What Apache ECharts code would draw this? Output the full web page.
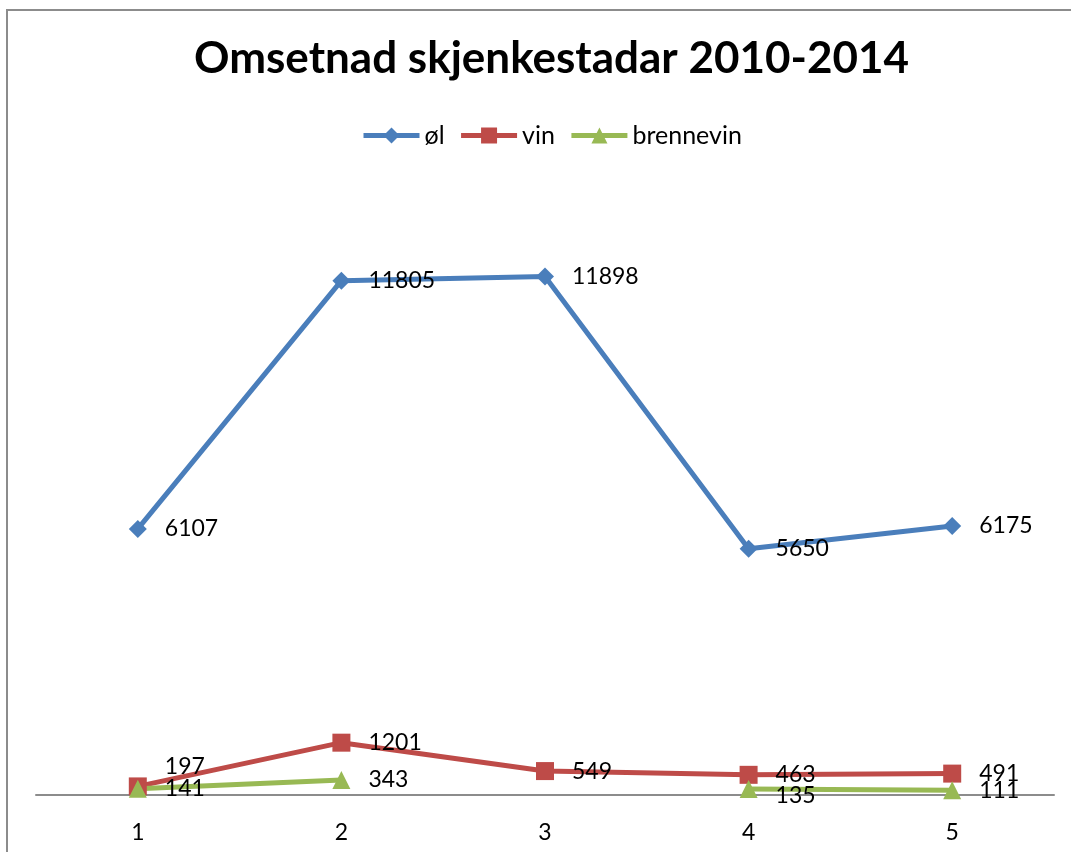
<!DOCTYPE html>
<html>
<head>
<meta charset="utf-8">
<script src="https://cdn.jsdelivr.net/npm/echarts@6/dist/echarts.min.js"></script>
<style>
  html, body { margin: 0; padding: 0; background: #fff; }
  #chart { width: 1071px; height: 852px; }
</style>
</head>
<body>
<div id="chart"></div>
<script>
// values
const categories = ['1', '2', '3', '4', '5'];
const ol = [6107, 11805, 11898, 5650, 6175];
const vin = [197, 1201, 549, 463, 491];
const brennevin = [141, 343, null, 135, 111];

const font = 'Lato, "Open Sans", sans-serif';
const label = { show: true, position: 'right', distance: 18, color: '#000', fontSize: 23, fontFamily: font };

const chart = echarts.init(document.getElementById('chart'));
chart.setOption({
  backgroundColor: '#fff',
  animation: false,
  title: {
    text: 'Omsetnad skjenkestadar 2010-2014',
    left: 189, top: 32,
    textStyle: { fontSize: 44, fontWeight: 'bold', color: '#000', fontFamily: font }
  },
  legend: {
    top: 118, left: 356,
    itemWidth: 56, itemHeight: 20, itemGap: 14,
    lineStyle: { width: 5 },
    textStyle: { fontSize: 25, color: '#000', fontFamily: font }
  },
  graphic: [{
    type: 'rect', silent: true,
    shape: { x: 7, y: 10, width: 1100, height: 900 },
    style: { fill: 'none', stroke: '#8c8c8c', lineWidth: 2 }
  }],
  grid: { left: 36, right: 17, top: 185, bottom: 57 },
  xAxis: {
    type: 'category', data: categories, boundaryGap: true,
    axisLine: { lineStyle: { color: '#8c8c8c', width: 2 } },
    axisTick: { show: false },
    axisLabel: { color: '#000', fontSize: 23, fontFamily: font, margin: 26 }
  },
  yAxis: {
    type: 'value', min: 0, max: 14000, show: false,
    splitLine: { show: false }
  },
  series: [
    {
      name: 'øl', type: 'line', data: ol,
      symbol: 'diamond', symbolSize: 18,
      itemStyle: { color: '#4A7EBB' },
      lineStyle: { width: 5, color: '#4A7EBB' },
      label: label
    },
    {
      name: 'vin', type: 'line',
      data: vin.map((v, i) => i === 0 ? { value: v, label: { offset: [0, -20] } } : v),
      symbol: 'rect', symbolSize: 18,
      itemStyle: { color: '#BE4B48' },
      lineStyle: { width: 5, color: '#BE4B48' },
      label: label
    },
    {
      name: 'brennevin', type: 'line',
      data: brennevin.map((v, i) => i === 3 ? { value: v, label: { offset: [0, 6] } } : v),
      connectNulls: false,
      symbol: 'triangle', symbolSize: 18,
      itemStyle: { color: '#98B954' },
      lineStyle: { width: 5, color: '#98B954' },
      label: label
    }
  ]
});
</script>
</body>
</html>
